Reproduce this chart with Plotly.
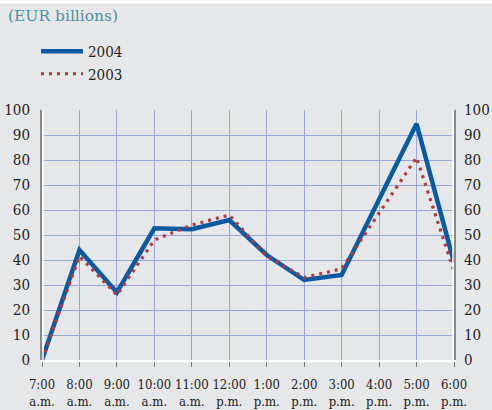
import plotly.graph_objects as go

hours = ["7:00<br>a.m.", "8:00<br>a.m.", "9:00<br>a.m.", "10:00<br>a.m.", "11:00<br>a.m.",
         "12:00<br>p.m.", "1:00<br>p.m.", "2:00<br>p.m.", "3:00<br>p.m.", "4:00<br>p.m.",
         "5:00<br>p.m.", "6:00<br>p.m."]
x_pos = list(range(len(hours)))
v2004 = [0, 44, 27, 52.7, 52.3, 56, 42, 32, 34, 64.5, 94.5, 39]
v2003 = [0, 41.5, 26, 48, 54, 58, 41.5, 33, 36.5, 59, 81, 35.5]
y_ticks = [0, 10, 20, 30, 40, 50, 60, 70, 80, 90, 100]

BG = "#e6e7e9"
FONT = "DejaVu Serif Condensed, DejaVu Serif, serif"
TFONT = "DejaVu Serif, serif"
GRID = "#98a6da"

fig = go.Figure()
fig.add_trace(go.Scatter(x=x_pos, y=v2004, name="2004", mode="lines",
                         line=dict(color="#0a5aa3", width=4.5)))
fig.add_trace(go.Scatter(x=x_pos, y=v2003, name="2003", mode="lines",
                         line=dict(color="#b23a3c", width=3.2, dash="3px,5px")))
fig.add_trace(go.Scatter(x=x_pos, y=v2004, yaxis="y2", mode="lines",
                         line=dict(color="rgba(0,0,0,0)"), showlegend=False, hoverinfo="skip"))

W, H = 492, 410
ml, mr, mt, mb = 42, 38, 110, 50
pw, ph = W - ml - mr, H - mt - mb

def px_x(p):
    return (p - ml) / pw

def px_y(p):
    return (H - mb - p) / ph

fig.update_layout(
    width=W, height=H,
    margin=dict(l=ml, r=mr, t=mt, b=mb, pad=0, autoexpand=False),
    paper_bgcolor=BG, plot_bgcolor=BG,
    font=dict(family=FONT, size=15, color="#222222"),
    showlegend=True,
    legend=dict(x=px_x(36), y=px_y(35), xanchor="left", yanchor="top",
                bgcolor="rgba(0,0,0,0)", font=dict(family=FONT, size=15, color="#222222"),
                itemwidth=42, tracegroupgap=0),
    xaxis=dict(range=[0, 11], tickvals=x_pos, ticktext=hours, tickangle=0, automargin=False,
               showgrid=True, gridcolor=GRID, gridwidth=1,
               showline=True, linecolor="white", linewidth=2,
               ticks="outside", ticklen=5, tickcolor="#777777", ticklabelstandoff=6,
               tickfont=dict(family=FONT, size=13, color="#222222"), zeroline=False,
               fixedrange=True),
    yaxis=dict(range=[0, 100], tickvals=y_ticks, showgrid=True, gridcolor=GRID, automargin=False,
               gridwidth=1, zeroline=False, showline=True, linecolor="#8a8a8a",
               linewidth=2, ticks="outside", ticklen=7, tickcolor="rgba(0,0,0,0)",
               tickfont=dict(family=FONT, size=15, color="#222222")),
    yaxis2=dict(range=[0, 100], tickvals=y_ticks, overlaying="y", side="right", automargin=False,
                showgrid=False, zeroline=False, showline=True, linecolor="#8a8a8a",
                linewidth=2, ticks="outside", ticklen=5, tickcolor="rgba(0,0,0,0)",
                tickfont=dict(family=FONT, size=15, color="#222222")),
    shapes=[
        dict(type="line", xref="paper", yref="paper", x0=px_x(0), x1=px_x(W),
             y0=px_y(2), y1=px_y(2), line=dict(color="white", width=3)),
        dict(type="line", xref="paper", yref="paper", x0=px_x(43), x1=px_x(43),
             y0=0, y1=1, line=dict(color="white", width=1.5)),
        dict(type="line", xref="paper", yref="paper", x0=px_x(453), x1=px_x(453),
             y0=0, y1=1, line=dict(color="white", width=1.5)),
    ],
    annotations=[
        dict(text="(EUR billions)", xref="paper", yref="paper", x=px_x(6), y=px_y(16),
             xanchor="left", yanchor="middle", showarrow=False,
             font=dict(family=TFONT, size=15.5, color="#4d93a3")),
    ],
)

fig.write_html("out.html", config={"displayModeBar": False},
               post_script="document.body.style.margin='0';document.body.style.background='#e6e7e9';")
